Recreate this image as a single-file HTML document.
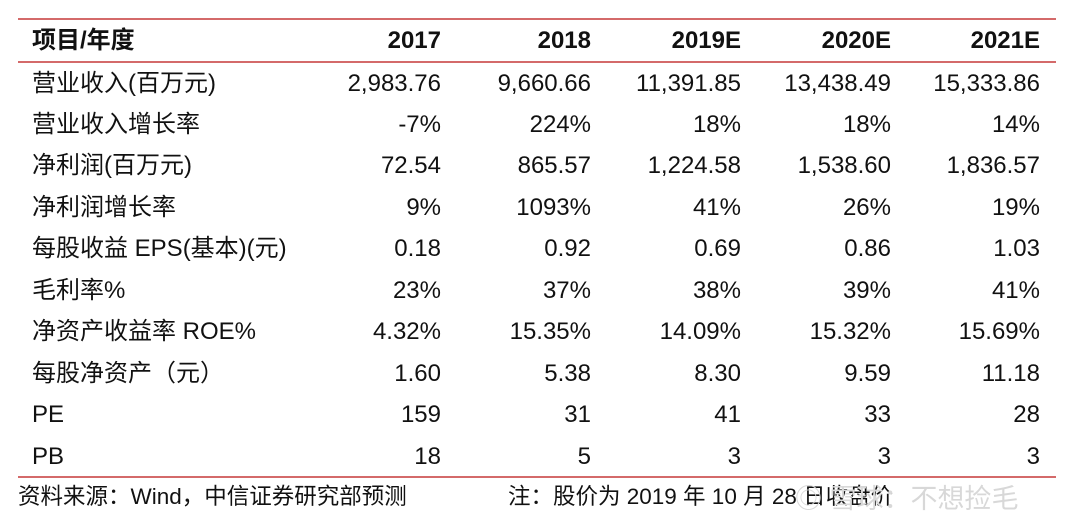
<!DOCTYPE html>
<html><head><meta charset="utf-8"><style>
body{margin:0;width:1080px;height:523px;background:#fff;overflow:hidden;position:relative;font-family:"Liberation Sans","Noto Sans CJK SC",sans-serif;color:#111;}
.l{position:absolute;left:18px;width:1038px;height:2px;background:#d46a6a;}
.r{position:absolute;left:0;width:1080px;height:41px;font-size:24px;line-height:41px;}
.r span{position:absolute;white-space:nowrap}
.r .a{left:32px}
.c1{right:639px}.c2{right:489px}.c3{right:339px}.c4{right:189px}.c5{right:40px}
.h{font-weight:bold}
.f{position:absolute;top:482px;font-size:22.5px;line-height:30px;white-space:nowrap}
.w{position:absolute;top:477px;left:795px;font-size:27px;color:#d8d8d8;white-space:nowrap}
</style></head><body>
<div class="l" style="top:18px"></div>
<div class="l" style="top:61px"></div>
<div class="l" style="top:476px"></div>
<div class="r h" style="top:20px"><span class="a">项目/年度</span><span class="c1">2017</span><span class="c2">2018</span><span class="c3">2019E</span><span class="c4">2020E</span><span class="c5">2021E</span></div>
<div class="r" style="top:63px"><span class="a">营业收入(百万元)</span><span class="c1">2,983.76</span><span class="c2">9,660.66</span><span class="c3">11,391.85</span><span class="c4">13,438.49</span><span class="c5">15,333.86</span></div>
<div class="r" style="top:104px"><span class="a">营业收入增长率</span><span class="c1">-7%</span><span class="c2">224%</span><span class="c3">18%</span><span class="c4">18%</span><span class="c5">14%</span></div>
<div class="r" style="top:145px"><span class="a">净利润(百万元)</span><span class="c1">72.54</span><span class="c2">865.57</span><span class="c3">1,224.58</span><span class="c4">1,538.60</span><span class="c5">1,836.57</span></div>
<div class="r" style="top:187px"><span class="a">净利润增长率</span><span class="c1">9%</span><span class="c2">1093%</span><span class="c3">41%</span><span class="c4">26%</span><span class="c5">19%</span></div>
<div class="r" style="top:228px"><span class="a">每股收益 EPS(基本)(元)</span><span class="c1">0.18</span><span class="c2">0.92</span><span class="c3">0.69</span><span class="c4">0.86</span><span class="c5">1.03</span></div>
<div class="r" style="top:270px"><span class="a">毛利率%</span><span class="c1">23%</span><span class="c2">37%</span><span class="c3">38%</span><span class="c4">39%</span><span class="c5">41%</span></div>
<div class="r" style="top:311px"><span class="a">净资产收益率 ROE%</span><span class="c1">4.32%</span><span class="c2">15.35%</span><span class="c3">14.09%</span><span class="c4">15.32%</span><span class="c5">15.69%</span></div>
<div class="r" style="top:353px"><span class="a">每股净资产（元）</span><span class="c1">1.60</span><span class="c2">5.38</span><span class="c3">8.30</span><span class="c4">9.59</span><span class="c5">11.18</span></div>
<div class="r" style="top:394px"><span class="a">PE</span><span class="c1">159</span><span class="c2">31</span><span class="c3">41</span><span class="c4">33</span><span class="c5">28</span></div>
<div class="r" style="top:436px"><span class="a">PB</span><span class="c1">18</span><span class="c2">5</span><span class="c3">3</span><span class="c4">3</span><span class="c5">3</span></div>
<div class="f" style="left:18px">资料来源：Wind，中信证券研究部预测</div>
<div class="f" style="left:508px">注：股价为 2019 年 10 月 28 日收盘价</div>
<div class="w">◎ 雪球：不想捡毛</div>
</body></html>
